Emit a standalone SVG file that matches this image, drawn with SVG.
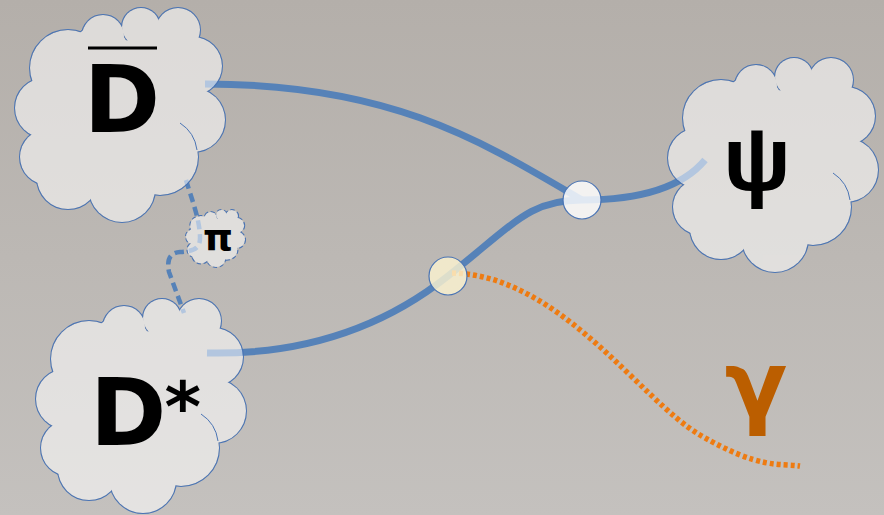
<svg xmlns="http://www.w3.org/2000/svg" xmlns:xlink="http://www.w3.org/1999/xlink" width="884" height="515" viewBox="0 0 884 515">
<style>
.conn{fill:none;stroke:#5682b8;stroke-width:7}
.dash{fill:none;stroke:#5682b8;stroke-width:4.5;stroke-dasharray:9 5}
.photon{fill:none;stroke:#ee7b11;stroke-width:5.5;stroke-dasharray:4 3}
.node{stroke:#4a74b4;stroke-width:1.2}
.lbl{font-family:"DejaVu Sans","Liberation Sans",sans-serif;fill:#000}
.hook{fill:none;stroke:#4a74b4;stroke-width:1}
</style>
<defs>
<linearGradient id="bg" x1="0" y1="0" x2="0" y2="1">
<stop offset="0" stop-color="#b4afaa"/>
<stop offset="1" stop-color="#c4c1be"/>
</linearGradient>
<g id="cc">
<circle cx="45" cy="108" r="30"/>
<circle cx="68" cy="68" r="38"/>
<circle cx="103" cy="36" r="21"/>
<circle cx="141" cy="27" r="19"/>
<circle cx="178" cy="30" r="22"/>
<circle cx="193" cy="66" r="29"/>
<circle cx="193" cy="120" r="32"/>
<circle cx="160" cy="157" r="38"/>
<circle cx="122" cy="189" r="33"/>
<circle cx="68" cy="178" r="31"/>
<circle cx="48" cy="157" r="28"/>
<circle cx="120" cy="112" r="72"/>
<circle cx="160" cy="70" r="40"/>
<circle cx="100" cy="55" r="30"/>
</g>
<mask id="cm" maskUnits="userSpaceOnUse" x="-50" y="-50" width="400" height="400">
<rect x="-50" y="-50" width="400" height="400" fill="#fff"/>
<use xlink:href="#cc" fill="#000"/>
</mask>
</defs>
<rect width="884" height="515" fill="url(#bg)"/>
<g id="connectors">
<path class="dash" d="M186,180 C192,200 200,220 200,238 C200,250 192,251 180,252 C168,253 167,262 169,272 L184,313"/>
<path class="conn" d="M205,84 C390,84 480,140 582,200"/>
<path class="conn" d="M207,353 C300,355 380,330 448,276 S530,200 582,200 S680,190 705,160"/>
<path class="photon" d="M452,273 C560,275 640,400 700,435 S780,463 800,466"/>
</g>
<g id="node-dbar">
<g opacity="0.55"><use xlink:href="#cc" fill="#fff"/></g>
<use xlink:href="#cc" fill="none" stroke="#4a74b4" stroke-width="2" mask="url(#cm)"/>
<path class="hook" d="M180,123 A38,38 0 0 1 197,150"/>
<line x1="88" y1="48" x2="157" y2="48" stroke="#000" stroke-width="3.2"/>
<text class="lbl" x="122" y="132" font-size="92" font-weight="bold" text-anchor="middle">D</text>
</g>
<g id="node-pi" transform="translate(181.8,207.9) scale(0.281,0.266)">
<g opacity="0.55"><use xlink:href="#cc" fill="#fff"/></g>
<use xlink:href="#cc" fill="none" stroke="#4a74b4" stroke-width="7.4" stroke-dasharray="15 9" mask="url(#cm)"/>
</g>
<text id="label-pi" class="lbl" x="218" y="250" font-size="38" font-weight="bold" text-anchor="middle">π</text>
<g id="node-dstar" transform="translate(21,291)">
<g opacity="0.55"><use xlink:href="#cc" fill="#fff"/></g>
<use xlink:href="#cc" fill="none" stroke="#4a74b4" stroke-width="2" mask="url(#cm)"/>
<path class="hook" d="M180,123 A38,38 0 0 1 197,150"/>
<text class="lbl" x="69" y="154" font-size="92" font-weight="bold">D<tspan font-size="70" dx="-2" dy="-14">*</tspan></text>
</g>
<g id="node-psi" transform="translate(653,50)">
<g opacity="0.55"><use xlink:href="#cc" fill="#fff"/></g>
<use xlink:href="#cc" fill="none" stroke="#4a74b4" stroke-width="2" mask="url(#cm)"/>
<path class="hook" d="M180,123 A38,38 0 0 1 197,150"/>
<text x="104" y="140" font-family="Liberation Sans,Arial,sans-serif" font-size="90" font-weight="bold" fill="#000" text-anchor="middle">ψ</text>
</g>
<g id="vertex-1">
<circle class="node" cx="582" cy="200" r="19" fill="#ffffff" fill-opacity="0.82"/>
</g>
<g id="vertex-2">
<circle class="node" cx="448" cy="276" r="19" fill="#fbf3cf" fill-opacity="0.82"/>
</g>
<g id="node-gamma">
<text x="756" y="417" font-family="DejaVu Sans,Liberation Sans,sans-serif" font-size="92" font-weight="bold" fill="#bb5e00" text-anchor="middle">γ</text>
</g>
</svg>
